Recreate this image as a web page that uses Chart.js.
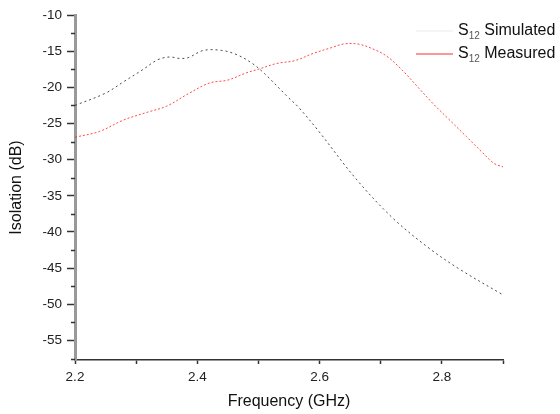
<!DOCTYPE html>
<html>
<head>
<meta charset="utf-8">
<script src="https://cdn.jsdelivr.net/npm/chart.js@4/dist/chart.umd.min.js"></script>
<style>
  body { margin: 0; background: #fff; }
  .wrap { position: relative; width: 560px; height: 414px; }
  .legend { position: absolute; left: 412px; top: 18px; font-family: "Liberation Sans", Arial, sans-serif; font-size: 16px; color: #111; }
  .legend .row { position: relative; height: 23px; line-height: 23px; padding-left: 46px; white-space: nowrap; }
  .legend .sw { position: absolute; left: 4px; top: 12px; width: 37px; height: 2px; }
  .legend sub { font-size: 10px; vertical-align: -4px; color: #555; }
</style>
</head>
<body>
<div class="wrap">
  <canvas id="chart"></canvas>
  <div class="legend">
    <div class="row"><div class="sw" style="background: rgba(0,0,0,0.04);"></div>S<sub>12</sub> Simulated</div>
    <div class="row"><div class="sw" style="background: rgb(255,150,150);"></div>S<sub>12</sub> Measured</div>
  </div>
</div>
<script>
// values
const simFreq = [2.20, 2.25, 2.28, 2.31, 2.335, 2.355, 2.37, 2.385, 2.41, 2.44, 2.465, 2.49, 2.51, 2.55, 2.565, 2.597, 2.66, 2.72, 2.78, 2.83, 2.90];
const simDb = [-22.5, -20.8, -19.2, -17.6, -16.2, -15.8, -16.0, -15.9, -14.9, -14.9, -15.5, -16.7, -18.1, -21.5, -22.7, -25.9, -32.7, -38.1, -42.3, -45.2, -48.7];

const measFreq = [2.20, 2.24, 2.28, 2.32, 2.35, 2.385, 2.42, 2.45, 2.48, 2.50, 2.53, 2.56, 2.59, 2.62, 2.64, 2.665, 2.69, 2.71, 2.735, 2.76, 2.785, 2.81, 2.84, 2.865, 2.885, 2.90];
const measDb = [-26.9, -26.1, -24.5, -23.4, -22.6, -20.9, -19.4, -19.0, -18.0, -17.5, -16.7, -16.3, -15.3, -14.5, -14.0, -14.05, -14.8, -15.7, -17.6, -19.9, -22.2, -24.3, -26.8, -28.9, -30.5, -31.0];

const yMinorTicks = [-12.5, -17.5, -22.5, -27.5, -32.5, -37.5, -42.5, -47.5, -52.5, -57.5];

const toPoints = (xs, ys) => xs.map((x, i) => ({ x: x, y: ys[i] }));

// short minor ticks on the left axis
const minorTicks = {
  id: 'minorTicks',
  afterDraw(chart) {
    const ctx = chart.ctx;
    const y = chart.scales.y;
    const left = chart.chartArea.left;
    ctx.save();
    ctx.strokeStyle = '#333';
    ctx.lineWidth = 1.5;
    yMinorTicks.forEach(v => {
      const py = Math.round(y.getPixelForValue(v)) + 0.5;
      ctx.beginPath();
      ctx.moveTo(left - 4, py);
      ctx.lineTo(left, py);
      ctx.stroke();
    });
    ctx.restore();
  }
};

const font = "'Liberation Sans', Arial, sans-serif";

new Chart(document.getElementById('chart'), {
  type: 'line',
  data: {
    datasets: [
      {
        label: 'S12 Simulated',
        data: toPoints(simFreq, simDb),
        borderColor: 'rgba(30,30,30,0.8)',
        borderWidth: 1,
        borderDash: [2, 3],
        pointRadius: 0,
        tension: 0.35,
      },
      {
        label: 'S12 Measured',
        data: toPoints(measFreq, measDb),
        borderColor: 'rgba(255,30,30,0.8)',
        borderWidth: 1,
        borderDash: [2, 2],
        pointRadius: 0,
        tension: 0.35,
      },
    ],
  },
  options: {
    responsive: true,
    maintainAspectRatio: false,
    animation: false,
    layout: { padding: { top: 15, right: 57, left: 0, bottom: 0 } },
    plugins: { legend: { display: false }, tooltip: { enabled: false } },
    scales: {
      x: {
        type: 'linear',
        min: 2.2,
        max: 2.9,
        afterFit(scale) { scale.height = 54; },
        grid: { drawOnChartArea: false, tickLength: 4, tickColor: '#333', tickWidth: 1.5 },
        border: { color: '#333', width: 1.5 },
        ticks: {
          stepSize: 0.1,
          padding: 5,
          color: '#222',
          font: { family: font, size: 13.5 },
          callback: v => (Math.round(v * 10) % 2 === 0 ? v.toFixed(1) : ''),
        },
        title: { display: true, text: 'Frequency (GHz)', color: '#111', font: { family: font, size: 16 }, padding: { top: 2, bottom: 3 } },
      },
      y: {
        min: -57.7,
        max: -10,
        afterFit(scale) { scale.width = 75; },
        grid: { drawOnChartArea: false, tickLength: 8, tickColor: '#333', tickWidth: 1.5 },
        border: { color: '#999', width: 3 },
        ticks: {
          stepSize: 5,
          includeBounds: false,
          padding: 5,
          color: '#222',
          font: { family: font, size: 13.5 },
        },
        title: { display: true, text: 'Isolation (dB)', color: '#111', font: { family: font, size: 16 }, padding: { top: 7, bottom: 4 } },
      },
    },
  },
  plugins: [minorTicks],
});
</script>
</body>
</html>
